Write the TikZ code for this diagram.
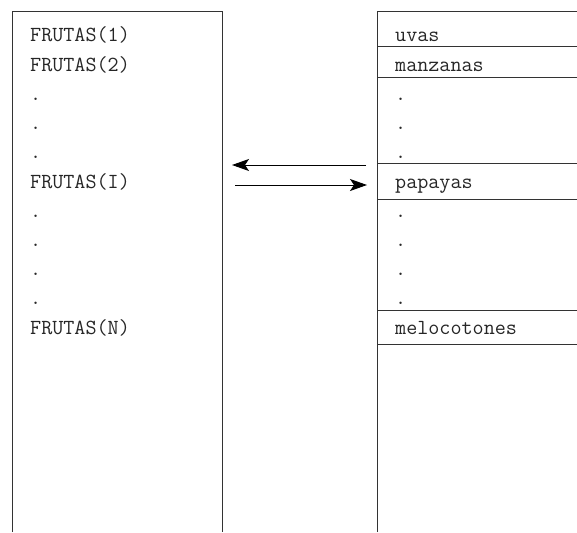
\documentclass[tikz,border=0pt]{standalone}
\usetikzlibrary{arrows.meta}
\begin{document}
\begin{tikzpicture}[x=1pt,y=-1pt,
  frame/.style={draw=black!80, line width=1pt},
  cell/.style={anchor=base west, inner sep=0pt, font=\ttfamily\fontsize{21.5}{26}\selectfont, text=black!85},
  link/.style={draw=black, line width=1pt, -{Stealth[length=17pt,width=12pt,inset=4pt]}}]
\useasboundingbox (0,0) rectangle (577,532);
% array of names (left)
\draw[frame] (12,532) -- (12,12) -- (222,12) -- (222,532);
% memory cells (right)
\draw[frame] (377,532) -- (377,12) -- (577,12);
\foreach \yy in {47,78,163,199,310,344} \draw[frame] (377,\yy) -- (577,\yy);
% left labels
\node[cell] (f1) at (30,42) {FRUTAS(1)};
\node[cell] (f2) at (30,71.2) {FRUTAS(2)};
\node[cell] (d1) at (30,100.4) {.};
\node[cell] (d2) at (30,129.6) {.};
\node[cell] (d3) at (30,158.8) {.};
\node[cell] (fi) at (30,188) {FRUTAS(I)};
\node[cell] (d4) at (30,217.2) {.};
\node[cell] (d5) at (30,246.4) {.};
\node[cell] (d6) at (30,275.6) {.};
\node[cell] (d7) at (30,304.8) {.};
\node[cell] (fn) at (30,334) {FRUTAS(N)};
% right labels
\node[cell] (r1) at (395,42) {uvas};
\node[cell] (r2) at (395,71.2) {manzanas};
\node[cell] (e1) at (395,100.4) {.};
\node[cell] (e2) at (395,129.6) {.};
\node[cell] (e3) at (395,158.8) {.};
\node[cell] (ri) at (395,188) {papayas};
\node[cell] (e4) at (395,217.2) {.};
\node[cell] (e5) at (395,246.4) {.};
\node[cell] (e6) at (395,275.6) {.};
\node[cell] (e7) at (395,304.8) {.};
\node[cell] (rn) at (395,334) {melocotones};
% arrows between the two columns
\coordinate (aL) at (232,165);
\coordinate (aR) at (366,165);
\coordinate (bL) at (235,185);
\coordinate (bR) at (367,185);
\draw[link] (aR) -- (aL);
\draw[link] (bL) -- (bR);
\end{tikzpicture}
\end{document}
